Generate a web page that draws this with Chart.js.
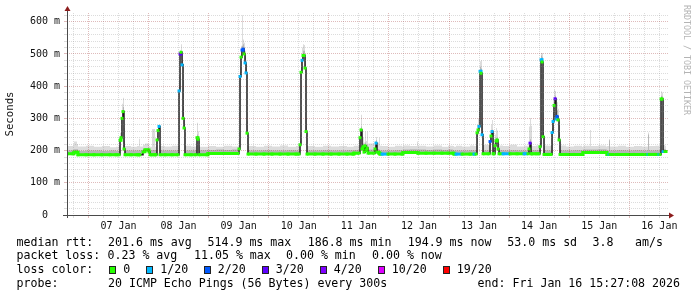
<!DOCTYPE html>
<html>
<head>
<meta charset="utf-8">
<script src="https://cdn.jsdelivr.net/npm/chart.js@4.4.0/dist/chart.umd.min.js"></script>
<style>
  html, body { margin: 0; padding: 0; background: #fff; }
  #wrap { position: relative; width: 697px; height: 297px; overflow: hidden; background: #fff; }
  #wrap canvas { position: absolute; left: 0; top: 0; }
  .lg { position: absolute; font: 11.6px "DejaVu Sans Mono", monospace; color: #000; white-space: pre; line-height: 14px; }
  .box { position: absolute; width: 5px; height: 6px; border: 1px solid #222; }
  #mark { position: absolute; left: 682px; top: 5px; writing-mode: vertical-rl; font: 8.3px "DejaVu Sans Mono", monospace; color: #b4b4b4; line-height: 10px; }
</style>
</head>
<body>
<div id="wrap">
  <canvas id="smokeChart" width="697" height="297"></canvas>
  <div id="mark">RRDTOOL / TOBI OETIKER</div>
</div>
<script>
// axis text
const dayLabels = ['07 Jan', '08 Jan', '09 Jan', '10 Jan', '11 Jan', '12 Jan', '13 Jan', '14 Jan', '15 Jan', '16 Jan'];
const yLabels = ['0  ', '100 m', '200 m', '300 m', '400 m', '500 m', '600 m'];

// samples: hours since Jan 06 00:00, values in ms, loss = lost pings out of 20
const hours = [
  15.45, 17.85, 18.25, 19.44, 19.84, 23.04, 26.23, 29.43, 32.62, 35.02,
  36.22, 36.62, 37.02, 37.41, 37.81, 38.21, 38.61, 41.01, 43.41, 44.20,
  44.60, 45.80, 46.60, 47.80, 48.20, 48.60, 49.40, 50.59, 50.99, 51.39,
  51.79, 52.19, 52.59, 54.59, 57.38, 59.78, 60.18, 60.58, 60.98, 61.38,
  61.78, 62.18, 62.57, 64.97, 66.97, 67.37, 67.77, 68.17, 71.36, 71.76,
  74.95, 78.15, 81.34, 83.74, 84.14, 84.54, 84.94, 85.34, 85.74, 86.14,
  86.54, 86.93, 87.33, 87.73, 90.93, 94.12, 97.32, 100.51, 103.71, 106.90,
  108.10, 108.50, 108.90, 109.30, 109.70, 110.10, 110.50, 110.89, 111.29, 114.49,
  117.69, 120.88, 124.08, 127.27, 129.67, 130.07, 132.06, 132.46, 132.86, 133.26,
  133.66, 134.06, 134.46, 134.86, 135.26, 135.66, 138.05, 138.45, 138.85, 139.25,
  140.05, 140.45, 141.25, 143.65, 146.44, 149.24, 149.63, 152.43, 155.23, 155.63,
  158.82, 162.02, 165.21, 167.61, 169.60, 170.00, 170.80, 173.20, 176.39, 177.99,
  178.79, 179.19, 179.58, 179.98, 180.38, 180.78, 181.18, 181.58, 183.98, 184.38,
  184.78, 185.18, 185.58, 185.98, 186.38, 186.77, 187.17, 187.57, 187.97, 189.57,
  192.38, 195.16, 197.96, 199.55, 199.95, 200.35, 200.75, 201.15, 202.75, 203.95,
  204.35, 204.75, 205.15, 205.54, 205.94, 207.54, 208.74, 209.14, 209.54, 209.94,
  210.34, 210.73, 211.13, 211.53, 211.93, 212.33, 214.73, 217.92, 221.12, 221.52,
  224.31, 224.71, 227.50, 230.70, 231.10, 231.90, 232.30, 235.49, 238.69, 241.88,
  245.08, 247.48, 247.88, 250.27, 251.87, 252.27, 252.67, 253.07, 253.47, 254.27,
  254.67
];
const median = [
  190, 190, 195, 195, 187, 187, 187, 187, 187, 187,
  187, 232, 240, 300, 321, 205, 187, 187, 187, 187,
  187, 196, 202, 202, 196, 187, 187, 187, 187, 233,
  262, 275, 187, 187, 187, 187, 385, 500, 505, 466,
  300, 270, 187, 187, 187, 240, 235, 187, 187, 191,
  191, 191, 191, 191, 205, 430, 490, 512, 515, 500,
  472, 441, 254, 189, 189, 189, 189, 189, 189, 189,
  189, 218, 443, 480, 495, 495, 456, 259, 189, 189,
  189, 189, 189, 189, 189, 192, 192, 240, 264, 205,
  212, 195, 215, 200, 208, 192, 192, 205, 223, 195,
  192, 189, 189, 189, 189, 189, 194, 194, 194, 192,
  192, 192, 192, 192, 192, 189, 189, 189, 189, 189,
  189, 255, 264, 275, 446, 440, 249, 190, 190, 228,
  245, 259, 190, 190, 215, 230, 233, 205, 190, 190,
  190, 190, 190, 190, 205, 223, 190, 190, 190, 190,
  212, 482, 475, 243, 188, 188, 188, 256, 290, 340,
  361, 298, 306, 295, 233, 188, 188, 188, 188, 194,
  194, 194, 194, 194, 188, 188, 188, 188, 188, 188,
  188, 188, 188, 188, 188, 188, 360, 360, 197, 197,
  197
];
const smokeMid = [
  200, 201, 204, 204, 199, 200, 200, 199, 200, 199,
  200, 245, 255, 320, 335, 230, 200, 200, 200, 201,
  200, 205, 208, 207, 203, 200, 202, 200, 200, 245,
  268, 278, 200, 200, 200, 200, 400, 505, 510, 480,
  330, 280, 200, 200, 201, 250, 240, 201, 202, 202,
  203, 202, 203, 202, 215, 445, 505, 525, 530, 520,
  490, 455, 265, 200, 200, 201, 200, 200, 201, 200,
  200, 230, 460, 495, 510, 510, 470, 275, 200, 200,
  201, 200, 200, 201, 200, 202, 203, 250, 275, 215,
  222, 205, 225, 210, 218, 203, 203, 212, 232, 205,
  203, 200, 200, 200, 201, 200, 203, 204, 203, 203,
  202, 203, 202, 203, 202, 200, 200, 200, 201, 200,
  200, 265, 272, 285, 460, 455, 260, 200, 201, 240,
  255, 265, 202, 202, 225, 240, 240, 212, 201, 200,
  201, 200, 200, 202, 215, 235, 205, 201, 201, 201,
  225, 495, 490, 260, 200, 200, 201, 270, 320, 360,
  370, 320, 325, 305, 250, 200, 200, 201, 200, 203,
  203, 203, 204, 203, 200, 232, 200, 201, 200, 201,
  200, 250, 200, 201, 200, 201, 370, 368, 205, 204,
  204
];
const smokeTop = [
  214, 216, 228, 220, 213, 215, 212, 214, 210, 212,
  215, 255, 300, 345, 364, 270, 214, 212, 214, 237,
  213, 218, 222, 220, 214, 212, 267, 212, 213, 262,
  275, 282, 214, 213, 215, 214, 430, 512, 530, 500,
  420, 300, 215, 213, 214, 286, 260, 212, 212, 214,
  212, 215, 213, 214, 230, 460, 525, 620, 545, 535,
  510, 480, 290, 214, 212, 215, 213, 216, 212, 214,
  213, 250, 480, 520, 530, 528, 500, 300, 214, 212,
  215, 213, 214, 212, 213, 215, 225, 270, 311, 245,
  240, 225, 259, 230, 259, 222, 218, 230, 242, 225,
  240, 215, 214, 212, 215, 213, 216, 214, 228, 215,
  213, 216, 212, 215, 214, 212, 215, 213, 216, 214,
  215, 280, 300, 330, 477, 480, 290, 218, 216, 260,
  280, 295, 220, 225, 250, 270, 262, 228, 216, 214,
  218, 213, 215, 216, 275, 301, 277, 214, 216, 215,
  245, 503, 503, 300, 216, 215, 218, 300, 360, 389,
  385, 360, 350, 330, 280, 216, 213, 215, 212, 215,
  264, 214, 216, 213, 214, 236, 213, 215, 212, 214,
  213, 256, 214, 215, 214, 215, 384, 380, 218, 215,
  215
];
const loss = [
  0, 0, 0, 0, 0, 0, 0, 0, 0, 0,
  0, 0, 0, 0, 0, 0, 0, 0, 0, 0,
  0, 0, 0, 0, 0, 0, 0, 0, 0, 0,
  0, 1, 0, 0, 0, 0, 1, 3, 0, 1,
  0, 0, 0, 0, 0, 0, 0, 0, 0, 0,
  0, 0, 0, 0, 0, 1, 0, 2, 2, 0,
  1, 1, 0, 0, 0, 0, 0, 0, 0, 0,
  0, 0, 0, 1, 0, 0, 0, 0, 0, 0,
  0, 0, 0, 0, 0, 0, 0, 0, 0, 0,
  0, 0, 0, 0, 0, 0, 0, 0, 1, 0,
  0, 0, 1, 0, 0, 0, 0, 0, 0, 0,
  0, 0, 0, 0, 0, 0, 1, 0, 0, 1,
  0, 0, 0, 1, 1, 0, 1, 0, 0, 2,
  0, 1, 0, 0, 0, 0, 0, 0, 0, 1,
  0, 0, 1, 0, 0, 3, 0, 0, 0, 0,
  0, 1, 0, 0, 0, 0, 0, 1, 1, 0,
  3, 1, 2, 0, 0, 0, 0, 0, 0, 0,
  0, 0, 0, 0, 0, 1, 0, 0, 0, 0,
  0, 1, 0, 0, 1, 0, 0, 0, 1, 0,
  0
];

// legend text
const rttStats = ['201.6 ms avg', '514.9 ms max', '186.8 ms min', '194.9 ms now', '53.0 ms sd', '3.8', 'am/s'];
const lossStats = ['0.23 % avg', '11.05 % max', '0.00 % min', '0.00 % now'];
const lossLevels = [0, 1, 2, 3, 4, 10, 19];
const lossNames = ['0', '1/20', '2/20', '3/20', '4/20', '10/20', '19/20'];
const lossColors = ['#26ff00', '#00b8ff', '#0059ff', '#5e00ff', '#7e00ff', '#dd00ff', '#ff0000'];
const probeText = '20 ICMP Echo Pings (56 Bytes) every 300s';
const endText = 'end: Fri Jan 16 15:27:08 2026';

const MONO = '"DejaVu Sans Mono", monospace';
const minorGrid = 'rgba(140, 140, 140, 0.3)';
const majorGrid = 'rgba(150, 30, 30, 0.3)';

function lossColor(n) {
  let c = lossColors[0];
  lossLevels.forEach((lv, i) => { if (n >= lv) c = lossColors[i]; });
  return c;
}

const toPoints = vals => hours.map((h, i) => ({ x: h, y: vals[i] }));

// axis lines with the little rrdtool arrows
const axisArrows = {
  id: 'axisArrows',
  afterDraw(c) {
    const { ctx, chartArea: a } = c;
    const xb = a.bottom + 0.5, yl = a.left + 0.5;
    ctx.save();
    ctx.strokeStyle = '#4a4a4a';
    ctx.lineWidth = 1;
    ctx.beginPath();
    ctx.moveTo(a.left - 4, xb); ctx.lineTo(a.right + 2, xb);
    ctx.moveTo(yl, a.bottom + 3); ctx.lineTo(yl, a.top - 3);
    ctx.stroke();
    ctx.fillStyle = '#8c1c1c';
    ctx.beginPath();
    ctx.moveTo(a.right + 6, xb); ctx.lineTo(a.right + 1, xb - 3); ctx.lineTo(a.right + 1, xb + 3);
    ctx.fill();
    ctx.beginPath();
    ctx.moveTo(yl, a.top - 7); ctx.lineTo(yl - 3, a.top - 2); ctx.lineTo(yl + 3, a.top - 2);
    ctx.fill();
    ctx.restore();
  }
};

let chart;

function initializeChart() {
  const ctx = document.getElementById('smokeChart').getContext('2d');
  chart = new Chart(ctx, {
    type: 'line',
    data: {
      datasets: [
        {
          label: 'median (loss colour)',
          data: toPoints(median),
          stepped: 'before',
          borderWidth: 3,
          borderColor: lossColors[0],
          segment: {
            borderColor: s => Math.abs(s.p0.parsed.y - s.p1.parsed.y) > 8
              ? 'rgba(0,0,0,0)'
              : lossColor(loss[s.p0DataIndex])
          },
          pointStyle: 'rect',
          pointRadius: 2.1,
          pointBorderWidth: 0,
          pointBackgroundColor: loss.map(lossColor),
          fill: false,
          order: 0
        },
        {
          label: 'median',
          data: toPoints(median),
          stepped: 'before',
          borderWidth: 1.5,
          borderColor: '#1c1c1c',
          pointRadius: 0,
          fill: false,
          order: 1
        },
        {
          label: 'smoke inner',
          data: toPoints(smokeMid),
          stepped: 'before',
          borderWidth: 0,
          borderColor: 'rgba(0,0,0,0)',
          backgroundColor: '#b6b6b6',
          pointRadius: 0,
          fill: 1,
          order: 2
        },
        {
          label: 'smoke outer',
          data: toPoints(smokeTop),
          stepped: 'before',
          borderWidth: 0,
          borderColor: 'rgba(0,0,0,0)',
          backgroundColor: '#dcdcdc',
          pointRadius: 0,
          fill: 1,
          order: 3
        }
      ]
    },
    options: {
      responsive: false,
      animation: false,
      devicePixelRatio: 1,
      events: [],
      layout: { padding: { left: 0, right: 29, top: 13, bottom: 62 } },
      scales: {
        x: {
          type: 'linear',
          min: 15.45,
          max: 255.45,
          afterFit: s => { s.height = 20; },
          afterBuildTicks: s => {
            const t = [];
            for (let h = 18; h <= 252; h += 6) t.push({ value: h });
            s.ticks = t;
          },
          ticks: {
            autoSkip: false,
            maxRotation: 0,
            padding: 2,
            color: '#111',
            font: { family: MONO, size: 10 },
            callback: v => (v % 24 === 12 ? dayLabels[(v - 36) / 24] : '')
          },
          grid: {
            z: 1,
            tickLength: 3,
            color: c => (c.tick && c.tick.value % 24 === 0 ? majorGrid : minorGrid)
          },
          border: { display: false, dash: [1, 1] }
        },
        y: {
          min: 0,
          max: 627,
          afterFit: s => { s.width = 67; },
          afterBuildTicks: s => {
            const t = [];
            for (let v = 0; v <= 620; v += 20) t.push({ value: v });
            s.ticks = t;
          },
          ticks: {
            autoSkip: false,
            padding: 4,
            color: '#111',
            font: { family: MONO, size: 10 },
            callback: v => (v % 100 === 0 ? yLabels[v / 100] : '')
          },
          grid: {
            z: 1,
            tickLength: 3,
            color: c => (c.tick && c.tick.value % 100 === 0 ? majorGrid : minorGrid)
          },
          border: { display: false, dash: [1, 1] },
          title: {
            display: true,
            text: 'Seconds',
            color: '#111',
            font: { family: MONO, size: 10.7 },
            padding: { top: 4, bottom: 0 }
          }
        }
      },
      plugins: {
        legend: { display: false },
        tooltip: { enabled: false }
      }
    },
    plugins: [axisArrows]
  });
}

function addText(text, x, y, right) {
  const el = document.createElement('div');
  el.className = 'lg';
  el.textContent = text;
  el.style.top = y + 'px';
  if (right) el.style.right = x + 'px'; else el.style.left = x + 'px';
  document.getElementById('wrap').appendChild(el);
}

function buildLegend() {
  const rows = [234.5, 248, 262, 275.7];
  const left = 16.5;
  const rttX = [108, 207.5, 307.7, 407.7, 507.3, 592.5, 635];
  const lossStatX = [107.5, 194, 286, 372];
  const boxX = [109, 146, 203.5, 261.5, 319.5, 377.5, 442.5];

  addText('median rtt:', left, rows[0]);
  rttStats.forEach((t, i) => addText(t, rttX[i], rows[0]));

  addText('packet loss:', left, rows[1]);
  lossStats.forEach((t, i) => addText(t, lossStatX[i], rows[1]));

  addText('loss color:', left, rows[2]);
  lossNames.forEach((t, i) => {
    const b = document.createElement('div');
    b.className = 'box';
    b.style.left = boxX[i] + 'px';
    b.style.top = '266px';
    b.style.background = lossColors[i];
    document.getElementById('wrap').appendChild(b);
    addText(t, boxX[i] + 14.3, rows[2]);
  });

  addText('probe:', left, rows[3]);
  addText(probeText, 108, rows[3]);
  addText(endText, 17, rows[3], true);
}

initializeChart();
buildLegend();
</script>
</body>
</html>
